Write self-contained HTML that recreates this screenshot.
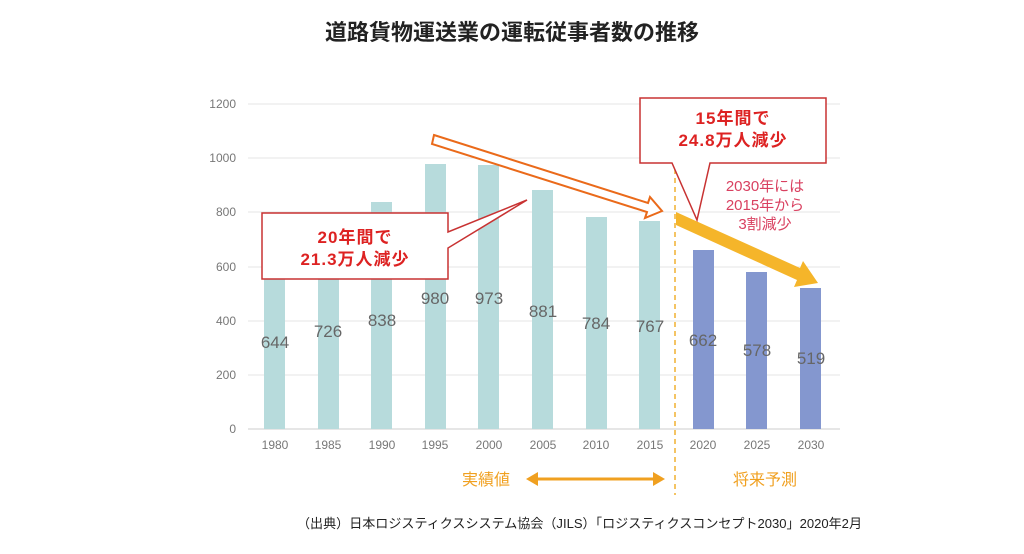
<!DOCTYPE html><html><head><meta charset="utf-8"><style>body{margin:0;background:#fff}svg{display:block}</style></head><body>
<svg width="1024" height="554" xmlns="http://www.w3.org/2000/svg" font-family="Liberation Sans, Noto Sans CJK JP, sans-serif">
<text x="512" y="40" text-anchor="middle" font-size="22" font-weight="bold" fill="#222">道路貨物運送業の運転従事者数の推移</text>
<g stroke="#e6e6e6" stroke-width="1">
<line x1="248" x2="840" y1="104" y2="104"/><line x1="248" x2="840" y1="158" y2="158"/><line x1="248" x2="840" y1="212" y2="212"/><line x1="248" x2="840" y1="267" y2="267"/><line x1="248" x2="840" y1="321" y2="321"/><line x1="248" x2="840" y1="375" y2="375"/><line x1="248" x2="840" y1="429" y2="429" stroke="#ccc"/></g>
<g font-size="12" fill="#777" text-anchor="end">
<text x="236" y="108">1200</text><text x="236" y="162">1000</text><text x="236" y="216">800</text><text x="236" y="271">600</text><text x="236" y="325">400</text><text x="236" y="379">200</text><text x="236" y="433">0</text></g>
<g fill="#b7dbdc">
<rect x="264" y="255" width="21" height="174"/><rect x="318" y="232" width="21" height="197"/><rect x="371" y="202" width="21" height="227"/><rect x="425" y="164" width="21" height="265"/><rect x="478" y="165" width="21" height="264"/><rect x="532" y="190" width="21" height="239"/><rect x="586" y="217" width="21" height="212"/><rect x="639" y="221" width="21" height="208"/></g>
<g fill="#8497cf"><rect x="693" y="250" width="21" height="179"/><rect x="746" y="272" width="21" height="157"/><rect x="800" y="288" width="21" height="141"/></g>
<g font-size="17" fill="#666" text-anchor="middle">
<text x="275" y="348">644</text><text x="328" y="337">726</text><text x="382" y="326">838</text><text x="435" y="304">980</text><text x="489" y="304">973</text><text x="543" y="317">881</text><text x="596" y="329">784</text><text x="650" y="332">767</text><text x="703" y="346">662</text><text x="757" y="356">578</text><text x="811" y="364">519</text></g>
<g font-size="12" fill="#777" text-anchor="middle">
<text x="275" y="449">1980</text><text x="328" y="449">1985</text><text x="382" y="449">1990</text><text x="435" y="449">1995</text><text x="489" y="449">2000</text><text x="543" y="449">2005</text><text x="596" y="449">2010</text><text x="650" y="449">2015</text><text x="703" y="449">2020</text><text x="757" y="449">2025</text><text x="811" y="449">2030</text></g>
<line x1="675" y1="160" x2="675" y2="495" stroke="#f0b030" stroke-width="1.5" stroke-dasharray="5,4"/>
<polygon points="434,135 648,203 650,197 662,211 645,218 647,212 432,144" fill="#fff" stroke="#ea6a1a" stroke-width="2"/>
<polygon points="676,212 800,268 803,261 818,283 794,287 797,280 676,225" fill="#f5b52a"/>
<path d="M262 213 H448 V232 L527 200 L448 248 V279 H262 Z" fill="#fff" stroke="#c83232" stroke-width="1.5"/>
<text x="355" y="243" text-anchor="middle" font-size="17" font-weight="bold" fill="#d22" letter-spacing="1">20年間で</text>
<text x="355" y="265" text-anchor="middle" font-size="17" font-weight="bold" fill="#d22" letter-spacing="1">21.3万人減少</text>
<path d="M640 98 H826 V163 H710 L697 220 L672 163 H640 Z" fill="#fff" stroke="#c83232" stroke-width="1.5"/>
<text x="733" y="124" text-anchor="middle" font-size="17" font-weight="bold" fill="#d22" letter-spacing="1">15年間で</text>
<text x="733" y="146" text-anchor="middle" font-size="17" font-weight="bold" fill="#d22" letter-spacing="1">24.8万人減少</text>
<g font-size="15" fill="#d94060" text-anchor="middle"><text x="765" y="191">2030年には</text><text x="765" y="210">2015年から</text><text x="765" y="229">3割減少</text></g>
<text x="486" y="485" text-anchor="middle" font-size="16" fill="#f0a020">実績値</text>
<text x="765" y="485" text-anchor="middle" font-size="16" fill="#f0a020">将来予測</text>
<line x1="535" y1="479" x2="656" y2="479" stroke="#f0a020" stroke-width="3"/>
<polygon points="526,479 538,472 538,486" fill="#f0a020"/><polygon points="665,479 653,472 653,486" fill="#f0a020"/>
<text x="297" y="528" font-size="13" fill="#222" textLength="565" lengthAdjust="spacingAndGlyphs">（出典）日本ロジスティクスシステム協会（JILS）「ロジスティクスコンセプト2030」2020年2月</text>
</svg></body></html>
